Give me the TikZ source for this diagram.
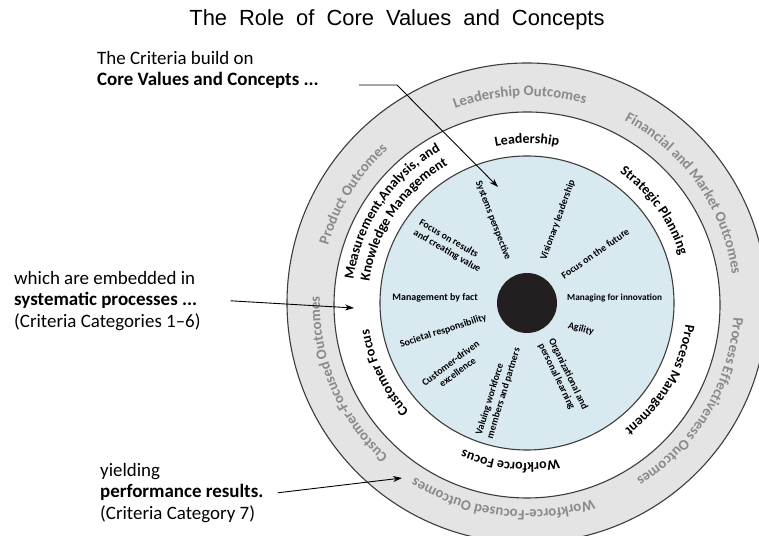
\documentclass[tikz,border=0pt]{standalone}
\usepackage{fontspec}
\setmainfont{Carlito}
\newfontfamily\fuentetitulo{Liberation Sans}
\usepackage{xcolor}
\usetikzlibrary{calc,arrows.meta,decorations.text}

\definecolor{anillo}{HTML}{E4E4E4}
\definecolor{borde}{HTML}{3C3C3C}
\definecolor{nucleo}{HTML}{D9E9F0}
\definecolor{gristexto}{HTML}{8A8A8A}
\definecolor{punto}{HTML}{231F20}

\newcommand\fuenteext{\fontsize{14.8}{14.8}\selectfont\bfseries\color{gristexto}}
\newcommand\fuentemed{\fontsize{14}{14}\selectfont\bfseries}

\begin{document}
\begin{tikzpicture}[
		x=1bp, y=1bp,
		aro/.style = {draw=borde, line width=1.1bp},
		texto/.style = {font=\fontsize{19}{21.5}\selectfont, align=left, inner sep=0pt},
		radial/.style = {font=\fontsize{10}{11.5}\selectfont\bfseries, inner sep=0pt},
		flecha/.style = {draw, line width=0.9bp, -{Stealth[length=9bp, width=6bp]}},
		externo/.style = {decorate, decoration={text along path, text align=center, text={|\fuenteext|#1}}},
		medio/.style = {decorate, decoration={text along path, text align=center, text={|\fuentemed|#1}}}
	]
	\useasboundingbox (0,0) rectangle (759,536);
	\clip (0,0) rectangle (759,536);

	% Anillos
	\coordinate (centro) at (527,233);
	\draw [aro, fill=anillo] (centro) circle[radius=240];
	\draw [aro, fill=white] (527,231) circle[radius=193];
	\draw [aro, fill=nucleo] (centro) circle[radius=147];
	\fill [punto] (centro) circle[radius=30];

	% Resultados (anillo gris)
	\path [externo={Leadership Outcomes}, shift={(centro)}] (150:207) arc[start angle=150, end angle=34, radius=207];
	\path [externo={Financial and Market Outcomes}, shift={(centro)}] (95:207) arc[start angle=95, end angle=-25, radius=207];
	\path [externo={Process Effectiveness Outcomes}, shift={(centro)}] (29:207) arc[start angle=29, end angle=-91, radius=207];
	\path [externo={Workforce-Focused Outcomes}, shift={(centro)}] (-37:207) arc[start angle=-37, end angle=-157, radius=207];
	\path [externo={Customer-Focused Outcomes}, shift={(centro)}] (-97:207) arc[start angle=-97, end angle=-217, radius=207];
	\path [externo={Product Outcomes}, shift={(centro)}] (208:207) arc[start angle=208, end angle=88, radius=207];

	% Categorias (anillo blanco)
	\path [medio={Leadership}, shift={(centro)}] (130:160) arc[start angle=130, end angle=50, radius=160];
	\path [medio={Strategic Planning}, shift={(centro)}] (86:160) arc[start angle=86, end angle=-14, radius=160];
	\path [medio={Process Management}, shift={(centro)}] (20:160) arc[start angle=20, end angle=-80, radius=160];
	\path [medio={Workforce Focus}, shift={(centro)}] (-46:160) arc[start angle=-46, end angle=-146, radius=160];
	\path [medio={Customer Focus}, shift={(centro)}] (-104:160) arc[start angle=-104, end angle=-204, radius=160];
	\path [medio={Measurement,Analysis, and}, shift={(centro)}] (206:175) arc[start angle=206, end angle=86, radius=175];
	\path [medio={Knowledge Management}, shift={(centro)}] (206:159) arc[start angle=206, end angle=86, radius=159];

	% Valores
	\node [radial, rotate=-69, anchor=east] (sistemas) at ($(centro)+(113.5:47)$) {Systems perspective};
	\node [radial, rotate=70, anchor=west] (vision) at ($(centro)+(69:46)$) {Visionary leadership};
	\node [radial, rotate=35, anchor=west] (futuro) at ($(centro)+(37:44)$) {Focus on the future};
	\node [radial, anchor=west, font=\fontsize{9.3}{11}\selectfont\bfseries] (innovacion) at ($(centro)+(40,5)$) {Managing for innovation};
	\node [radial, rotate=-15, anchor=west] (agilidad) at ($(centro)+(-29:47)$) {Agility};
	\node [radial, rotate=-64, anchor=west, align=left] (aprendizaje) at ($(centro)+(-64:43)$) {Organizational and\\personal learning};
	\node [radial, rotate=73, anchor=east, align=left] (personal) at ($(centro)+(-109:46)$) {Valuing workforce\\members and partners};
	\node [radial, rotate=37, anchor=east, align=center] (cliente) at ($(centro)+(-136:63)$) {Customer-driven\\excellence};
	\node [radial, rotate=18, anchor=east] (sociedad) at ($(centro)+(-161:43)$) {Societal responsibility};
	\node [radial, anchor=east] (hechos) at ($(centro)+(-49,5)$) {Management by fact};
	\node [radial, rotate=-30, anchor=east, align=left] (resultados) at ($(centro)+(139.5:58)$) {Focus on results\\and creating value};

	% Textos
	\node [font=\fuentetitulo\fontsize{22}{26}\selectfont] (titulo) at (397,516) {\spaceskip=12bp\relax The Role of Core Values and Concepts};
	\node [texto, anchor=north west] (criterios) at (97,485) {The Criteria build on\\\textbf{Core Values and Concepts ...}};
	\node [texto, anchor=north west] (procesos) at (14,265) {which are embedded in\\\textbf{systematic processes ...}\\(Criteria Categories 1--6)};
	\node [texto, anchor=north west] (rendimiento) at (100,73) {yielding\\\textbf{performance results.}\\(Criteria Category 7)};

	% Flechas
	\coordinate (codo) at (397,451);
	\coordinate (puntavalores) at (498,349);
	\coordinate (puntaprocesos) at (354,228);
	\coordinate (puntaresultados) at (402,58);
	\draw [flecha] (criterios.east |- codo) ++(40,0) -- (codo) -- (puntavalores);
	\draw [flecha] (procesos.east) ++(30,0) -- (puntaprocesos);
	\draw [flecha] (rendimiento.east) ++(14,0) -- (puntaresultados);
\end{tikzpicture}
\end{document}
